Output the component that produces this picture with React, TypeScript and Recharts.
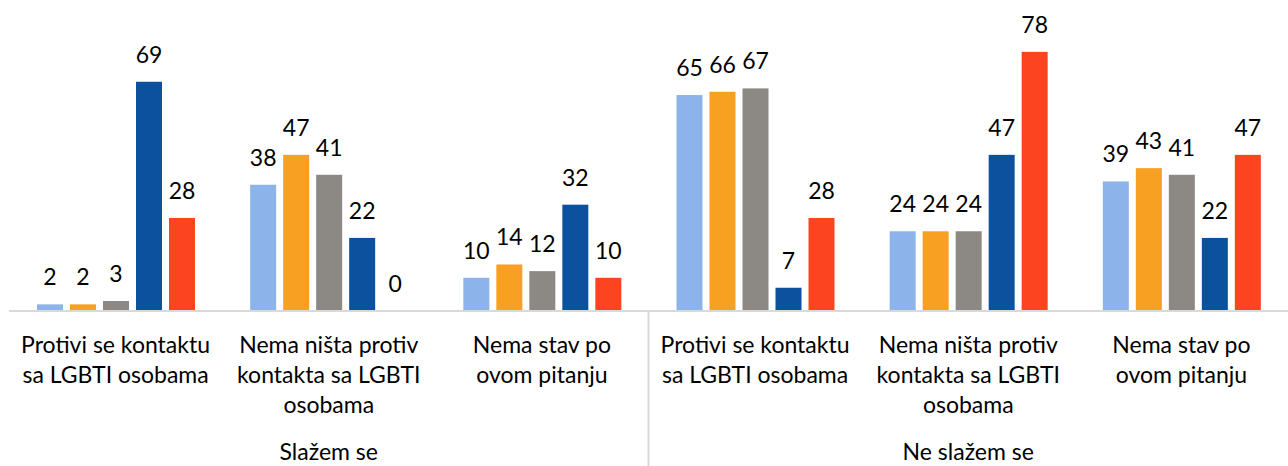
import React from "react";
import { BarChart, Bar, XAxis, YAxis } from "recharts";

const categories = [
  "Protivi se kontaktu\nsa LGBTI osobama",
  "Nema ništa protiv\nkontakta sa LGBTI\nosobama",
  "Nema stav po\novom pitanju",
  "Protivi se kontaktu\nsa LGBTI osobama",
  "Nema ništa protiv\nkontakta sa LGBTI\nosobama",
  "Nema stav po\novom pitanju",
];
const groups = ["Slažem se", "Slažem se", "Slažem se", "Ne slažem se", "Ne slažem se", "Ne slažem se"];
const s1 = [2, 38, 10, 65, 24, 39];
const s2 = [2, 47, 14, 66, 24, 43];
const s3 = [3, 41, 12, 67, 24, 41];
const s4 = [69, 22, 32, 7, 47, 22];
const s5 = [28, 0, 10, 28, 78, 47];
const seriesKeys = ["s1", "s2", "s3", "s4", "s5"];
const colors = ["#8DB4EA", "#F8A021", "#8C8883", "#0B519E", "#FC4420"];

const data = categories.map((c, i) => ({
  cat: i,
  label: c,
  group: groups[i],
  s1: s1[i],
  s2: s2[i],
  s3: s3[i],
  s4: s4[i],
  s5: s5[i],
}));

const FONT = "Lato, 'Open Sans', sans-serif";

const Tick = (props: any) => {
  const { x, y, payload, index } = props;
  const idx = typeof payload?.value === "number" ? payload.value : index;
  const lines = categories[idx].split("\n");
  const half = payload?.offset ?? 106.6;
  const isMidGroup = idx === 1 || idx === 4;
  return (
    <g>
      {lines.map((ln, k) => (
        <text
          key={k}
          x={x}
          y={y + 34 + k * 30}
          textAnchor="middle"
          fontSize={23}
          fontFamily={FONT}
          fill="#000"
        >
          {ln}
        </text>
      ))}
      {isMidGroup && (
        <text x={x} y={y + 141} textAnchor="middle" fontSize={23} fontFamily={FONT} fill="#000">
          {groups[idx]}
        </text>
      )}
      {idx === 3 && (
        <line x1={x - half} x2={x - half} y1={y - 8} y2={y + 160} stroke="#D9D9D9" strokeWidth={2} />
      )}
    </g>
  );
};

const makeShape = (color: string) => (props: any) => {
  const { x, y, width, height, value } = props;
  const v = Array.isArray(value) ? value[1] - value[0] : value;
  return (
    <g>
      {height > 0 && <rect x={x} y={y} width={width} height={height} fill={color} />}
      <text
        x={Number(x) + Number(width) / 2}
        y={Number(y) - 19}
        textAnchor="middle"
        fontSize={23}
        fontFamily={FONT}
        fill="#000"
      >
        {v}
      </text>
    </g>
  );
};

export default function App() {
  return (
    <div style={{ position: "absolute", left: 0, top: 0, background: "#fff" }}>
      <BarChart
        width={1288}
        height={466}
        data={data}
        margin={{ top: 12, right: 0, bottom: 0, left: 9 }}
        barSize={26}
        barGap={7}
      >
        <XAxis
          dataKey="cat"
          type="category"
          tickLine={false}
          axisLine={{ stroke: "#D9D9D9", strokeWidth: 2 }}
          tick={<Tick />}
          interval={0}
          height={155}
        />
        <YAxis hide domain={[0, 90]} />
        {seriesKeys.map((k, i) => (
          <Bar
            key={k}
            dataKey={k}
            fill={colors[i]}
            isAnimationActive={false}
            shape={makeShape(colors[i])}
          />
        ))}
      </BarChart>
    </div>
  );
}
